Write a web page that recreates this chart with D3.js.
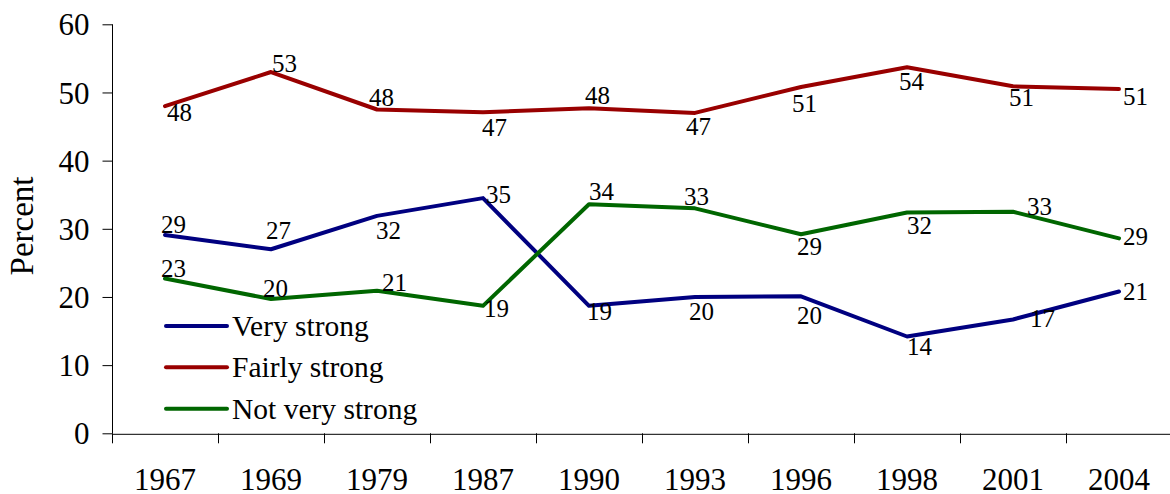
<!DOCTYPE html>
<html>
<head>
<meta charset="utf-8">
<script src="https://cdn.jsdelivr.net/npm/d3@7"></script>
<style>
  html, body { margin: 0; padding: 0; background: #fff; }
  svg { display: block; }
</style>
</head>
<body>
<svg id="chart" width="1170" height="494"></svg>
<script>
// ---- Data ----
const years = ["1967", "1969", "1979", "1987", "1990", "1993", "1996", "1998", "2001", "2004"];
const veryStrong    = [29.1, 27.0, 31.9, 34.5, 18.7, 20.0, 20.1, 14.2, 16.7, 20.8];
const fairlyStrong  = [48.0, 53.0, 47.5, 47.1, 47.7, 47.0, 50.8, 53.7, 50.9, 50.5];
const notVeryStrong = [22.7, 19.7, 20.9, 18.7, 33.6, 33.0, 29.2, 32.4, 32.5, 28.6];
const seriesNames = ["Very strong", "Fairly strong", "Not very strong"];
const yTicks = [0, 10, 20, 30, 40, 50, 60];

// ---- Presentation (label placement, colours) ----
const FONT = "Liberation Serif, Times New Roman, serif";
const colors = ["#000080", "#990000", "#006600"];
// [dx, dy] from the point to the label's start/baseline
const labelOffsets = [
  [[-4,-2],[-5,-10],[-1,23],[3,5],[-2,14],[-6,23],[-4,28],[0,18],[17,8],[4,8]],
  [[2,15],[1,0],[-8,-4],[-1,24],[-4,-4],[-9,22],[-9,25],[-8,23],[-4,20],[4,16]],
  [[-4,-2],[-8,-2],[5,0],[1,11],[0,-4],[-11,-3],[-4,21],[0,22],[14,3],[4,7]]
];

const seriesValues = [veryStrong, fairlyStrong, notVeryStrong];

const svg = d3.select("#chart").attr("font-family", FONT);
const mLeft = 112, mRight = 1172, mTop = 24.3, mBottom = 433.3;

const x = d3.scaleBand().domain(years).range([mLeft, mRight]);
const y = d3.scaleLinear().domain([0, 60]).range([mBottom, mTop]);

// Y axis
const yAxis = svg.append("g")
  .attr("transform", `translate(${mLeft + 0.5},0)`)
  .call(d3.axisLeft(y).tickValues(yTicks).tickSize(10).tickPadding(13).tickSizeOuter(0));
yAxis.attr("font-family", FONT);
yAxis.select(".domain").attr("stroke", "#000").attr("d", `M0,${y(60)}V${y(0)}`);
yAxis.selectAll(".tick line").attr("stroke", "#000");
yAxis.selectAll(".tick text").attr("font-size", 31).attr("font-family", FONT).attr("fill", "#000").attr("dy", "0.34em");

// X axis
const xAxis = svg.append("g")
  .attr("transform", `translate(0,${mBottom + 0.5})`)
  .call(d3.axisBottom(x).tickSize(0).tickSizeOuter(0));
xAxis.attr("font-family", FONT);
xAxis.select(".domain").attr("stroke", "#000");
xAxis.selectAll(".tick text")
  .attr("font-size", 31)
  .attr("font-family", FONT)
  .attr("fill", "#000")
  .attr("dy", 0)
  .attr("y", 490 - mBottom);
// boundary tick marks
svg.append("g").selectAll("line")
  .data(years)
  .join("line")
  .attr("x1", d => Math.round(x(d)) + 0.5)
  .attr("x2", d => Math.round(x(d)) + 0.5)
  .attr("y1", mBottom)
  .attr("y2", mBottom + 10)
  .attr("stroke", "#000");

// Lines
const line = d3.line()
  .x((d, i) => x(years[i]) + x.bandwidth() / 2)
  .y(d => y(d));

seriesValues.forEach((vals, s) => {
  svg.append("path")
    .datum(vals)
    .attr("fill", "none")
    .attr("stroke", colors[s])
    .attr("stroke-width", 4)
    .attr("stroke-linejoin", "round")
    .attr("stroke-linecap", "round")
    .attr("d", line);
});

// Labels
seriesValues.forEach((vals, s) => {
  svg.append("g").selectAll("text")
    .data(vals)
    .join("text")
    .attr("x", (d, i) => x(years[i]) + x.bandwidth() / 2 + labelOffsets[s][i][0])
    .attr("y", (d, i) => y(d) + labelOffsets[s][i][1])
    .attr("font-family", FONT)
    .attr("font-size", 25)
    .attr("fill", "#000")
    .text(d => Math.round(d));
});

// Legend
const legend = svg.append("g");
const legendY = [326, 367.3, 408.7];
seriesNames.forEach((name, s) => {
  legend.append("line")
    .attr("x1", 166).attr("x2", 227)
    .attr("y1", legendY[s]).attr("y2", legendY[s])
    .attr("stroke", colors[s]).attr("stroke-width", 4)
    .attr("stroke-linecap", "round");
  legend.append("text")
    .attr("x", 232).attr("y", legendY[s] + 10)
    .attr("font-family", FONT)
    .attr("font-size", 29.5)
    .attr("fill", "#000")
    .text(name);
});

// Y axis title
svg.append("text")
  .attr("transform", "translate(32.5,226) rotate(-90)")
  .attr("text-anchor", "middle")
  .attr("font-family", FONT)
  .attr("font-size", 33)
  .attr("fill", "#000")
  .text("Percent");
</script>
</body>
</html>
